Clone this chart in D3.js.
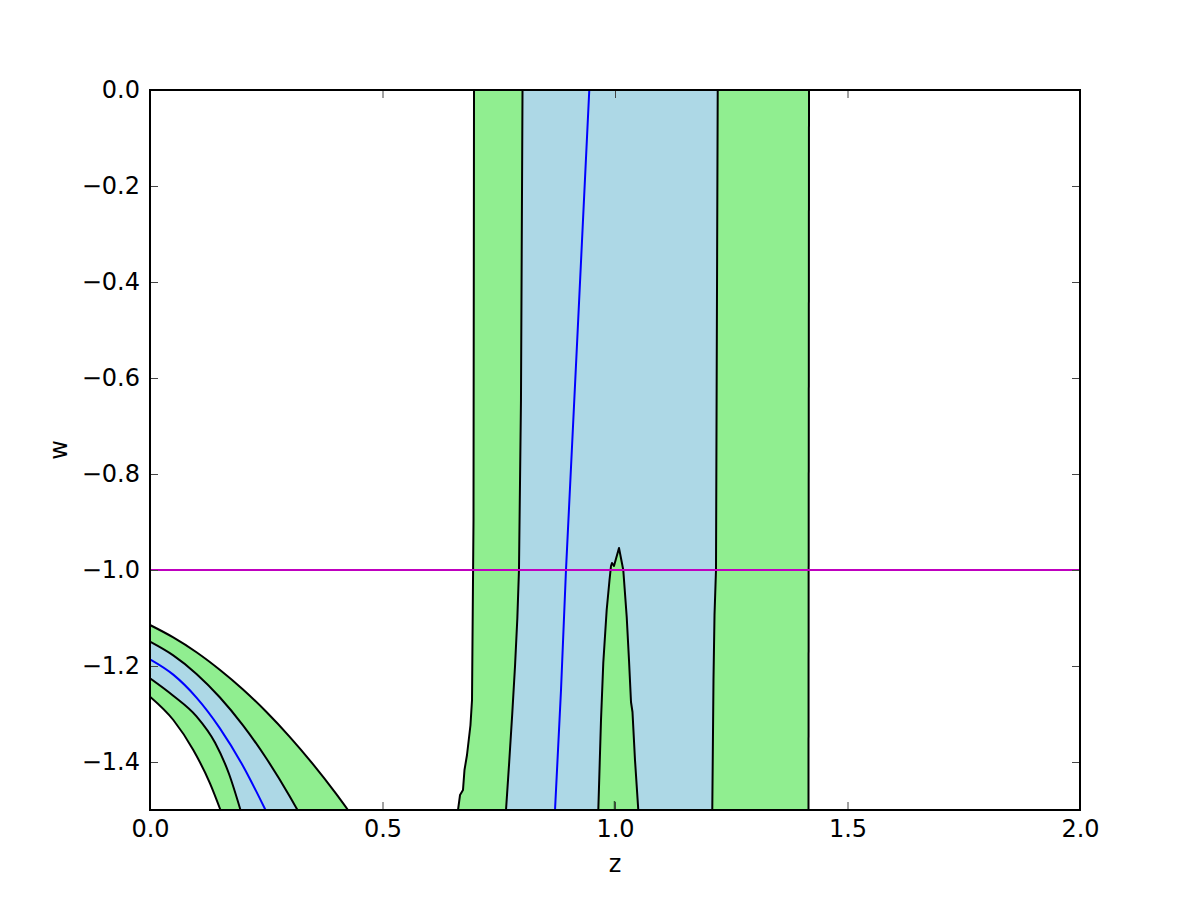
<!DOCTYPE html>
<html>
<head>
<meta charset="utf-8">
<script src="https://cdn.jsdelivr.net/npm/d3@7"></script>
<style>
  html, body { margin: 0; padding: 0; background: #fff; }
  svg { display: block; }
  text { font-family: "DejaVu Sans", sans-serif; }
</style>
</head>
<body>
<svg id="chart" width="1200" height="900"></svg>
<script>
// ---- Data: contour lines as [z, w] pairs ----
const xTicks = [0, 0.5, 1.0, 1.5, 2.0];
const yTicks = [-1.4, -1.2, -1.0, -0.8, -0.6, -0.4, -0.2, 0.0];
const referenceW = -1.0;

// Band A (vertical band)
const outerLeftA = [[0.6968, 0], [0.6957, -0.8958], [0.6925, -1.2708], [0.6892, -1.3229], [0.6817, -1.3854],
  [0.6763, -1.4167], [0.6731, -1.4583], [0.6667, -1.4688], [0.6624, -1.5]];
const innerLeftA = [[0.8011, 0], [0.7978, -0.6458], [0.7935, -1.0], [0.7900, -1.10], [0.7850, -1.20],
  [0.7790, -1.30], [0.7725, -1.40], [0.7656, -1.5]];
const centerA = [[0.9447, 0], [0.9198, -0.5], [0.8946, -1.0], [0.8839, -1.25], [0.8710, -1.5]];
const innerRightA = [[1.2209, 0], [1.2172, -1.0], [1.2140, -1.094], [1.2118, -1.229], [1.2092, -1.5]];
const outerRightA = [[1.4172, 0], [1.4161, -1.5]];
const islandA = [[0.9641, -1.5], [0.9699, -1.3125], [0.9748, -1.1938], [0.9821, -1.0833], [0.9882, -1.0208],
  [0.9914, -0.9917], [0.9935, -0.9854], [0.9978, -0.9917], [1.0086, -0.9542],
  [1.0178, -1.0], [1.0252, -1.0979], [1.0301, -1.1875], [1.0344, -1.275], [1.0376, -1.2958],
  [1.0430, -1.3958], [1.0501, -1.5]];
const islandStub = [[0.9989, -1.4813], [0.9989, -1.5]];

// Band B (lower-left curved band)
const outerUpperB = [[0, -1.1146], [0.05, -1.1404], [0.10, -1.1713], [0.15, -1.2078], [0.20, -1.2489],
  [0.25, -1.2954], [0.30, -1.3471], [0.35, -1.4040], [0.40, -1.4659], [0.4258, -1.5]];
const innerUpperB = [[0, -1.1494], [0.05, -1.1780], [0.10, -1.2165], [0.15, -1.2651], [0.20, -1.3236],
  [0.25, -1.3922], [0.30, -1.4707], [0.3172, -1.5]];
const centerB = [[0, -1.1861], [0.05, -1.2180], [0.10, -1.2658], [0.15, -1.3293], [0.20, -1.4083], [0.2484, -1.5]];
const innerLowerB = [[0, -1.2257], [0.05, -1.2620], [0.10, -1.3050], [0.14, -1.3600], [0.17, -1.4250], [0.1946, -1.5]];
const outerLowerB = [[0, -1.2639], [0.0502, -1.3125], [0.0931, -1.375], [0.1290, -1.4444], [0.1516, -1.5]];

// ---- Layout ----
const svg = d3.select("#chart");
const L = 150, T = 90, R = 1080, B = 810;
const x = d3.scaleLinear().domain([0, 2]).range([L, R]);
const y = d3.scaleLinear().domain([-1.5, 0]).range([B, T]);

const GREEN = "#90ee90", BLUE = "#add8e6";

svg.append("clipPath").attr("id", "clip")
  .append("rect").attr("x", L).attr("y", T).attr("width", R - L).attr("height", B - T);

const plot = svg.append("g").attr("clip-path", "url(#clip)");

const lineStraight = d3.line().x(d => x(d[0])).y(d => y(d[1]));
const lineSmooth = d3.line().x(d => x(d[0])).y(d => y(d[1])).curve(d3.curveMonotoneX);

function closedPath(genA, a, genB, b) {
  // second curve drawn in reverse so the polygon closes along the plot edges
  const rev = b.slice().reverse();
  const pb = genB === lineSmooth
    ? d3.line().x(d => x(d[0])).y(d => y(d[1])).curve(d3.curveMonotoneX)(rev)
    : genB(rev);
  return genA(a) + pb.replace(/^M/, "L") + "Z";
}

// Fills
plot.append("path").attr("d", closedPath(lineStraight, outerLeftA, lineStraight, outerRightA)).attr("fill", GREEN);
plot.append("path").attr("d", closedPath(lineStraight, innerLeftA, lineStraight, innerRightA)).attr("fill", BLUE);
plot.append("path").attr("d", lineStraight(islandA) + "Z").attr("fill", GREEN);

plot.append("path").attr("d", closedPath(lineSmooth, outerUpperB, lineSmooth, outerLowerB)).attr("fill", GREEN);
plot.append("path").attr("d", closedPath(lineSmooth, innerUpperB, lineSmooth, innerLowerB)).attr("fill", BLUE);

// Contour lines
const blackLines = [[outerLeftA, lineStraight], [innerLeftA, lineStraight], [innerRightA, lineStraight],
  [outerRightA, lineStraight], [islandA, lineStraight],
  [outerUpperB, lineSmooth], [innerUpperB, lineSmooth], [innerLowerB, lineSmooth], [outerLowerB, lineSmooth]];
blackLines.forEach(([pts, gen]) => {
  plot.append("path").attr("d", gen(pts)).attr("fill", "none")
    .attr("stroke", "#000").attr("stroke-width", 2).attr("stroke-linejoin", "round");
});
plot.append("path").attr("d", lineStraight(islandStub)).attr("fill", "none")
  .attr("stroke", "#2d5a2d").attr("stroke-width", 1.5);

[[centerA, lineStraight], [centerB, lineSmooth]].forEach(([pts, gen]) => {
  plot.append("path").attr("d", gen(pts)).attr("fill", "none")
    .attr("stroke", "#0000ff").attr("stroke-width", 2);
});

// Reference line w = -1
plot.append("line").attr("x1", x(0)).attr("x2", x(2)).attr("y1", y(referenceW)).attr("y2", y(referenceW))
  .attr("stroke", "#bf00bf").attr("stroke-width", 2);

// Axes
const fmt = d3.format(".1f");
const FS = 24;
function styleAxis(g, labels) {
  g.select(".domain").remove();
  g.selectAll(".tick line").attr("stroke", "#444").attr("stroke-width", 1);
  g.selectAll(".tick text").attr("font-size", FS).attr("fill", "#000")
    .attr("font-family", "DejaVu Sans");
  if (!labels) g.selectAll(".tick text").remove();
}
svg.append("g").attr("transform", `translate(0,${B})`)
  .call(d3.axisBottom(x).tickValues(xTicks).tickFormat(fmt).tickSizeInner(-8).tickSizeOuter(0).tickPadding(10))
  .call(g => styleAxis(g, true));
svg.append("g").attr("transform", `translate(0,${T})`)
  .call(d3.axisTop(x).tickValues(xTicks).tickSizeInner(-8).tickSizeOuter(0))
  .call(g => styleAxis(g, false));
svg.append("g").attr("transform", `translate(${L},0)`)
  .call(d3.axisLeft(y).tickValues(yTicks).tickFormat(fmt).tickSizeInner(-8).tickSizeOuter(0).tickPadding(10))
  .call(g => styleAxis(g, true));
svg.append("g").attr("transform", `translate(${R},0)`)
  .call(d3.axisRight(y).tickValues(yTicks).tickSizeInner(-8).tickSizeOuter(0))
  .call(g => styleAxis(g, false));

// Frame
svg.append("rect").attr("x", L).attr("y", T).attr("width", R - L).attr("height", B - T)
  .attr("fill", "none").attr("stroke", "#000").attr("stroke-width", 2);

// Axis labels
svg.append("text").attr("x", (L + R) / 2).attr("y", 872).attr("text-anchor", "middle")
  .attr("font-size", FS).text("z");
svg.append("text").attr("transform", `translate(67,${(T + B) / 2}) rotate(-90)`).attr("text-anchor", "middle")
  .attr("font-size", FS).text("w");
</script>
</body>
</html>
